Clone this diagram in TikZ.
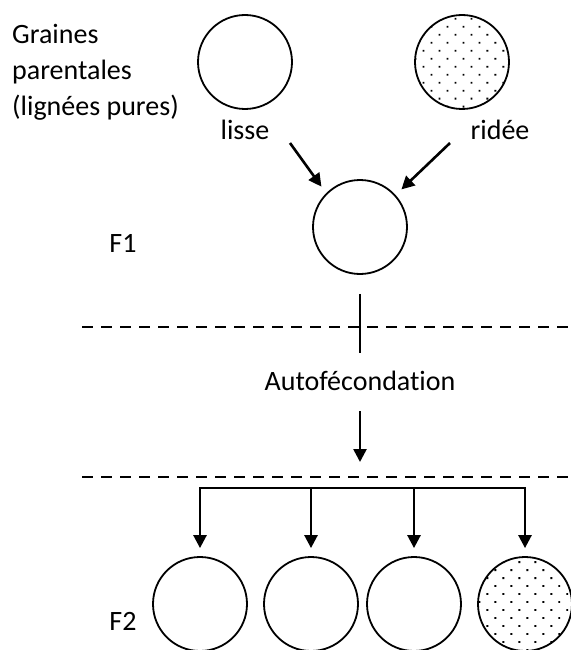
\documentclass[tikz,border=0pt]{standalone}
\usepackage{fontspec}
\setmainfont{Carlito}[Ligatures={NoCommon}]
\usetikzlibrary{arrows.meta,patterns.meta}

\tikzset{
	graine/.style={circle, draw, line width=1.8pt, minimum size=94pt, inner sep=0pt},
	grainerid/.style={graine, pattern={Dots[distance=11.3pt, angle=45, radius=1.3pt]}},
	fleche/.style={line width=2.6pt, -{Triangle[width=13pt,length=13pt]}},
	trait/.style={line width=2.4pt},
	pointilles/.style={line width=1.8pt, dash pattern=on 11pt off 8pt},
	texte/.style={font=\fontsize{28}{36}\selectfont, inner sep=0pt}
}

\begin{document}
\begin{tikzpicture}[x=1pt, y=-1pt]
			%%%%% START %%%%%
			\useasboundingbox (0, 0) rectangle (570, 650);
			
			% graines parentales
			\node[texte, anchor=west, align=left] (titre) at (12, 72) {Graines\\parentales\\(lignées pures)};
			\node[graine] (lisse) at (245, 62) {};
			\node[grainerid] (ridee) at (462, 62) {};
			\node[texte] (lblisse) at (245, 130) {lisse};
			\node[texte] (lbridee) at (500, 130) {ridée};
			
			% F1
			\node[texte] (fone) at (123, 243) {F1};
			\node[graine] (gfone) at (360, 227) {};
			\coordinate (dlisse) at (290, 143);
			\coordinate (dridee) at (450, 143);
			\draw[fleche, shorten >=8pt] (dlisse) -- (gfone.135);
			\draw[fleche, shorten >=8pt] (dridee) -- (gfone.42);
			
			% autofecondation
			\draw[pointilles] (82, 327) -- (575, 327);
			\coordinate (tige) at (360, 353);
			\draw[trait, shorten <=19pt] (gfone) -- (tige);
			\node[texte] (autof) at (360, 381) {Autofécondation};
			\coordinate (pointe) at (360, 462);
			\draw[fleche, shorten <=20pt] (autof) -- (pointe);
			\draw[pointilles] (82, 477) -- (575, 477);
			
			% F2
			\node[texte] (ftwo) at (123, 621) {F2};
			\node[graine] (ftwoa) at (200, 604) {};
			\node[graine] (ftwob) at (311, 604) {};
			\node[graine] (ftwoc) at (414, 604) {};
			\node[grainerid] (ftwod) at (525, 604) {};
			
			\coordinate (barreg) at (200, 488);
			\coordinate (barred) at (525, 488);
			\draw[trait, line cap=rect] (barreg) -- (barred);
			\draw[fleche, shorten >=8pt] (ftwoa |- barreg) -- (ftwoa);
			\draw[fleche, shorten >=8pt] (ftwob |- barreg) -- (ftwob);
			\draw[fleche, shorten >=8pt] (ftwoc |- barreg) -- (ftwoc);
			\draw[fleche, shorten >=8pt] (ftwod |- barreg) -- (ftwod);
			
			%%%%% END %%%%%
\end{tikzpicture}
\end{document}
